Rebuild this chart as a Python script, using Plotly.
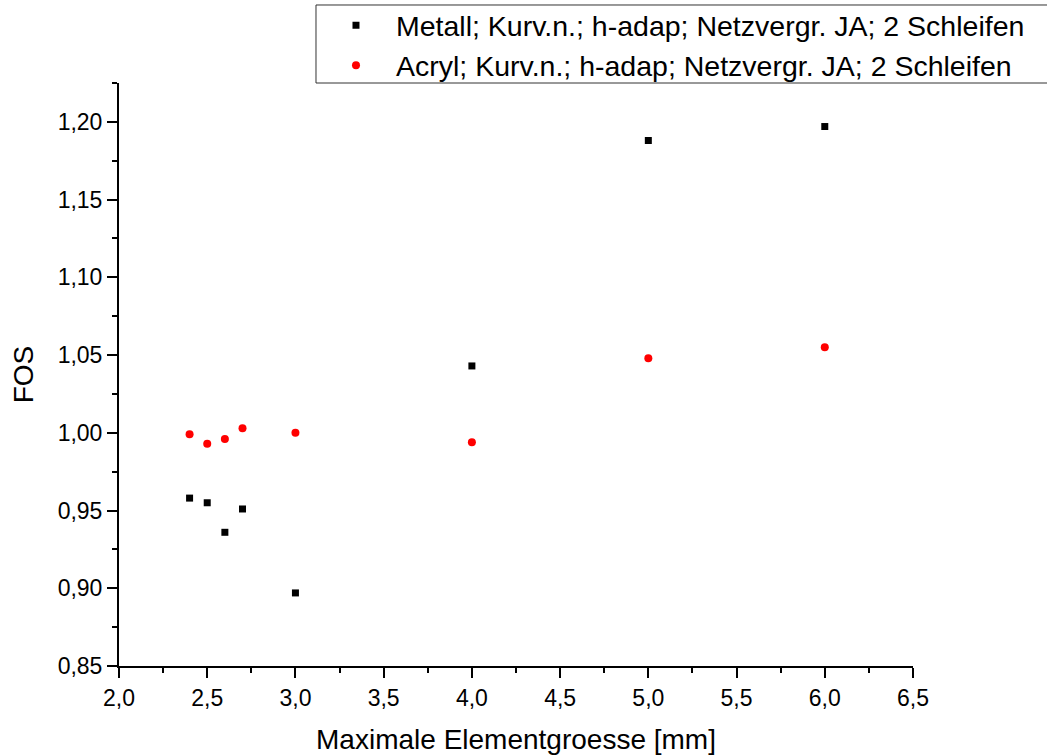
import plotly.graph_objects as go

x_vals = [2.4, 2.5, 2.6, 2.7, 3.0, 4.0, 5.0, 6.0]
metall = [0.958, 0.955, 0.936, 0.951, 0.897, 1.043, 1.188, 1.197]
acryl = [0.999, 0.993, 0.996, 1.003, 1.000, 0.994, 1.048, 1.055]
x_ticks = [2.0, 2.5, 3.0, 3.5, 4.0, 4.5, 5.0, 5.5, 6.0, 6.5]
y_ticks = [0.85, 0.90, 0.95, 1.00, 1.05, 1.10, 1.15, 1.20]

FONT = "Liberation Sans, Arial, sans-serif"

fig = go.Figure()
fig.add_trace(go.Scatter(
    x=x_vals, y=metall, mode="markers",
    name="Metall; Kurv.n.; h-adap; Netzvergr. JA; 2 Schleifen",
    marker=dict(symbol="square", size=7, color="black"),
))
fig.add_trace(go.Scatter(
    x=x_vals, y=acryl, mode="markers",
    name="Acryl; Kurv.n.; h-adap; Netzvergr. JA; 2 Schleifen",
    marker=dict(symbol="circle", size=8, color="#ff0000"),
))

# legend frame (extends past the right edge as in the reference)
fig.add_shape(
    type="rect", xref="paper", yref="paper",
    x0=0.2481, x1=1.25, y0=1.0, y1=1.1338,
    line=dict(color="#333333", width=1), fillcolor="white", layer="above",
)

fig.update_layout(
    width=1047, height=756,
    paper_bgcolor="white", plot_bgcolor="white",
    margin=dict(l=119, r=134, t=83, b=90, autoexpand=False),
    font=dict(family=FONT, size=23, color="black"),
    showlegend=True,
    legend=dict(
        x=0.2481, xanchor="left", y=1.142, yanchor="top",
        borderwidth=0, bgcolor="rgba(0,0,0,0)",
        font=dict(family=FONT, size=28.5, color="black"),
        tracegroupgap=0, itemwidth=70,
    ),
    xaxis=dict(
        range=[2.0, 6.5], tickvals=x_ticks,
        ticktext=[f"{v:.1f}".replace(".", ",") for v in x_ticks],
        showgrid=False, zeroline=False,
        showline=True, linecolor="black", linewidth=2,
        ticks="outside", ticklen=10, tickwidth=2, tickcolor="black",
        minor=dict(ticks="outside", ticklen=5, tickwidth=2, tickcolor="black", dtick=0.25),
        tickfont=dict(size=23),
        title=dict(text="Maximale Elementgroesse [mm]", font=dict(size=28), standoff=20),
    ),
    yaxis=dict(
        range=[0.85, 1.225], tickvals=y_ticks,
        ticktext=[f"{v:.2f}".replace(".", ",") for v in y_ticks],
        showgrid=False, zeroline=False,
        showline=True, linecolor="black", linewidth=2,
        ticks="outside", ticklen=10, tickwidth=2, tickcolor="black",
        minor=dict(ticks="outside", ticklen=5, tickwidth=2, tickcolor="black", dtick=0.025),
        tickfont=dict(size=23),
        title=dict(text="FOS", font=dict(size=28), standoff=16),
    ),
)

fig.write_html("out.html")
